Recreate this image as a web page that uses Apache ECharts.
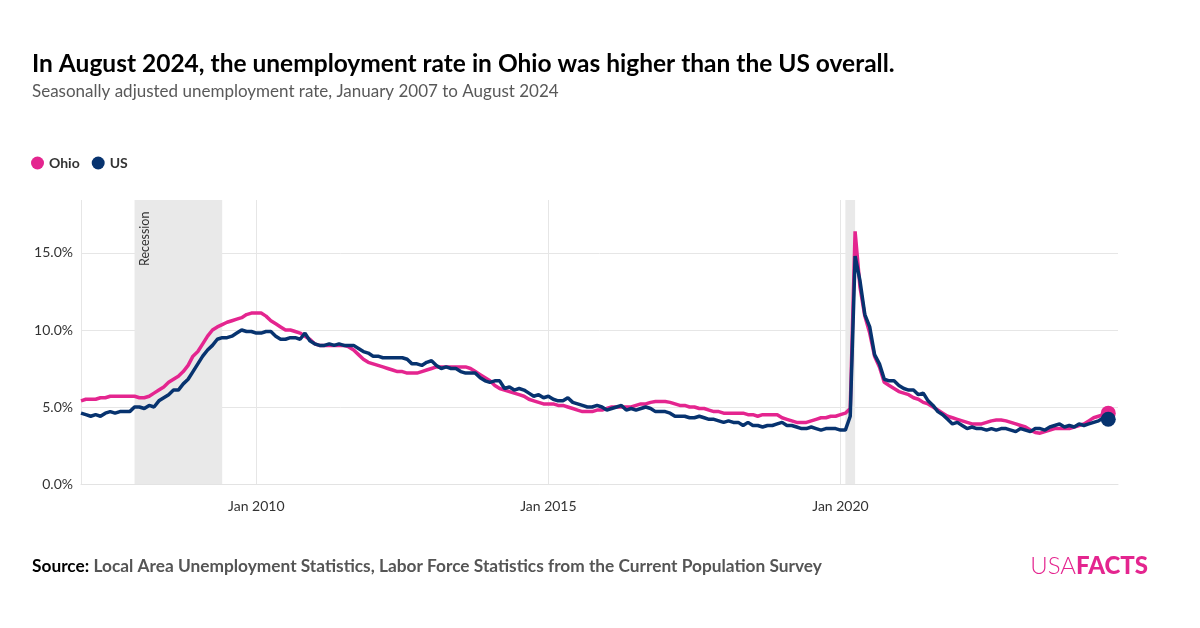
<!DOCTYPE html>
<html>
<head>
<meta charset="utf-8">
<script src="https://cdn.jsdelivr.net/npm/echarts@6/dist/echarts.min.js"></script>
<style>
html,body{margin:0;padding:0;background:#fff;}
#chart{width:1200px;height:628px;}
</style>
</head>
<body>
<div id="chart"></div>
<script>
// Monthly series, January 2007 to August 2024 (seasonally adjusted, %)
const ohio = [
  5.4,5.5,5.5,5.5,5.6,5.6,5.7,5.7,5.7,5.7,5.7,5.7,            // 2007
  5.6,5.6,5.7,5.9,6.1,6.3,6.6,6.8,7.0,7.3,7.7,8.3,            // 2008
  8.6,9.1,9.6,10.0,10.2,10.35,10.5,10.6,10.7,10.8,11.0,11.1,  // 2009
  11.1,11.1,10.9,10.6,10.4,10.2,10.0,10.0,9.9,9.8,9.6,9.4,    // 2010
  9.1,9.0,9.0,9.0,9.0,9.0,9.0,8.9,8.7,8.4,8.1,7.9,            // 2011
  7.8,7.7,7.6,7.5,7.4,7.3,7.3,7.2,7.2,7.2,7.3,7.4,            // 2012
  7.5,7.6,7.6,7.6,7.6,7.6,7.6,7.6,7.5,7.3,7.1,6.9,            // 2013
  6.7,6.4,6.2,6.1,6.0,5.9,5.8,5.7,5.5,5.4,5.3,5.2,            // 2014
  5.2,5.2,5.1,5.1,5.0,4.9,4.8,4.7,4.7,4.7,4.8,4.8,            // 2015
  4.9,5.0,5.0,5.0,5.0,5.0,5.1,5.2,5.2,5.3,5.35,5.35,          // 2016
  5.35,5.3,5.2,5.1,5.1,5.0,5.0,4.9,4.9,4.8,4.7,4.7,           // 2017
  4.6,4.6,4.6,4.6,4.6,4.5,4.5,4.4,4.5,4.5,4.5,4.5,            // 2018
  4.3,4.2,4.1,4.0,4.0,4.0,4.1,4.2,4.3,4.3,4.4,4.4,            // 2019
  4.5,4.6,4.9,16.4,12.8,10.9,9.8,8.3,7.6,6.6,6.4,6.2,         // 2020
  6.0,5.9,5.8,5.6,5.5,5.3,5.2,5.0,4.8,4.6,4.4,4.3,            // 2021
  4.2,4.1,4.0,3.9,3.9,3.9,4.0,4.1,4.15,4.15,4.1,4.0,          // 2022
  3.9,3.8,3.7,3.5,3.35,3.3,3.4,3.5,3.6,3.6,3.6,3.6,           // 2023
  3.7,3.8,3.9,4.1,4.3,4.4,4.5,4.6                             // 2024
];
const us = [
  4.6,4.5,4.4,4.5,4.4,4.6,4.7,4.6,4.7,4.7,4.7,5.0,
  5.0,4.9,5.1,5.0,5.4,5.6,5.8,6.1,6.1,6.5,6.8,7.3,
  7.8,8.3,8.7,9.0,9.4,9.5,9.5,9.6,9.8,10.0,9.9,9.9,
  9.8,9.8,9.9,9.9,9.6,9.4,9.4,9.5,9.5,9.4,9.8,9.3,
  9.1,9.0,9.0,9.1,9.0,9.1,9.0,9.0,9.0,8.8,8.6,8.5,
  8.3,8.3,8.2,8.2,8.2,8.2,8.2,8.1,7.8,7.8,7.7,7.9,
  8.0,7.7,7.5,7.6,7.5,7.5,7.3,7.2,7.2,7.2,6.9,6.7,
  6.6,6.7,6.7,6.2,6.3,6.1,6.2,6.1,5.9,5.7,5.8,5.6,
  5.7,5.5,5.4,5.4,5.6,5.3,5.2,5.1,5.0,5.0,5.1,5.0,
  4.8,4.9,5.0,5.1,4.8,4.9,4.8,4.9,5.0,4.9,4.7,4.7,
  4.7,4.6,4.4,4.4,4.4,4.3,4.3,4.4,4.3,4.2,4.2,4.1,
  4.0,4.1,4.0,4.0,3.8,4.0,3.8,3.8,3.7,3.8,3.8,3.9,
  4.0,3.8,3.8,3.7,3.6,3.6,3.7,3.6,3.5,3.6,3.6,3.6,
  3.5,3.5,4.4,14.8,13.2,11.0,10.2,8.4,7.8,6.8,6.7,6.7,
  6.4,6.2,6.1,6.1,5.8,5.9,5.4,5.1,4.7,4.5,4.2,3.9,
  4.0,3.8,3.6,3.7,3.6,3.6,3.5,3.6,3.5,3.6,3.6,3.5,
  3.4,3.6,3.5,3.4,3.6,3.6,3.5,3.7,3.8,3.9,3.7,3.8,
  3.7,3.9,3.8,3.9,4.0,4.1,4.3,4.2
];
// Axis months (axis runs a little past the last observation)
const startYear = 2007, endYear = 2024, endMonth = 10;
const months = [];
for (let y = startYear; y <= endYear; y++) {
  for (let m = 1; m <= 12; m++) {
    if (y === endYear && m > endMonth) break;
    months.push(y + '-' + String(m).padStart(2, '0'));
  }
}
const monthNames = ['Jan','Feb','Mar','Apr','May','Jun','Jul','Aug','Sep','Oct','Nov','Dec'];
const yTicks = [0, 5, 10, 15];
const yMax = 18.44;
const recessions = [['2007-12', '2009-06', 'Recession'], ['2020-02', '2020-04', '']];

const PINK = '#e4258f', NAVY = '#07336f';
const FONT = 'Lato';

function isMajor(val) {
  const [y, m] = val.split('-');
  return m === '01' && (+y) % 5 === 0;
}
function endDot(arr) {
  return function (v, p) { return p.dataIndex === arr.length - 1 ? 15 : 0; };
}

const chart = echarts.init(document.getElementById('chart'), null, {renderer: 'canvas'});
chart.setOption({
  animation: false,
  backgroundColor: '#fff',
  textStyle: {fontFamily: FONT},
  title: [
    {
      text: 'In August 2024, the unemployment rate in Ohio was higher than the US overall.',
      subtext: 'Seasonally adjusted unemployment rate, January 2007 to August 2024',
      left: 32, top: 52, itemGap: 6, padding: 0,
      textStyle: {fontFamily: FONT, fontSize: 24.5, fontWeight: 'bold', color: '#000'},
      subtextStyle: {fontFamily: FONT, fontSize: 17, color: '#595959'}
    },
    {
      text: '{b|Source:} {g|Local Area Unemployment Statistics, Labor Force Statistics from the Current Population Survey}',
      left: 32, top: 557, padding: 0,
      textStyle: {
        rich: {
          b: {fontFamily: FONT, fontSize: 17.3, fontWeight: 'bold', color: '#000'},
          g: {fontFamily: FONT, fontSize: 17.3, fontWeight: 'bold', color: '#555'}
        }
      }
    },
    {
      text: '{a|USA}{b|FACTS}',
      right: 52, top: 554, padding: 0,
      textStyle: {
        rich: {
          a: {fontFamily: FONT, fontSize: 24, fontWeight: 300, color: PINK},
          b: {fontFamily: FONT, fontSize: 24, fontWeight: 900, color: PINK}
        }
      }
    }
  ],
  legend: {
    data: ['Ohio', 'US'],
    left: 31, top: 156, padding: 0,
    icon: 'circle', itemWidth: 13, itemHeight: 13, itemGap: 12,
    textStyle: {fontFamily: FONT, fontSize: 14, fontWeight: 'bold', color: '#333'}
  },
  grid: {left: 81, right: 82, top: 200, bottom: 144, containLabel: false},
  xAxis: {
    type: 'category',
    data: months,
    boundaryGap: false,
    axisLine: {show: true, lineStyle: {color: '#e3e3e3', width: 1}},
    axisTick: {show: false},
    axisLabel: {
      interval: function (i, v) { return isMajor(v); },
      formatter: function (v) { const [y, m] = v.split('-'); return monthNames[+m - 1] + ' ' + y; },
      fontFamily: FONT, fontSize: 14, color: '#333', margin: 15
    },
    splitLine: {
      show: true,
      interval: function (i, v) { return i === 0 || isMajor(v); },
      lineStyle: {color: '#e6e6e6', width: 1}
    }
  },
  yAxis: {
    type: 'value',
    min: 0, max: yMax, interval: 5,
    axisLine: {show: false},
    axisTick: {show: false},
    axisLabel: {
      formatter: function (v) { return yTicks.indexOf(v) >= 0 ? v.toFixed(1) + '%' : ''; },
      showMaxLabel: false,
      fontFamily: FONT, fontSize: 14, color: '#333', margin: 8
    },
    splitLine: {show: true, showMaxLine: false, lineStyle: {color: '#e6e6e6', width: 1}}
  },
  series: [
    {
      name: 'Ohio', type: 'line', data: ohio,
      color: PINK,
      lineStyle: {width: 3.5, color: PINK},
      symbol: 'circle', symbolSize: endDot(ohio), showSymbol: true, showAllSymbol: true,
      itemStyle: {color: PINK},
      emphasis: {disabled: true}, silent: true, z: 2,
      markArea: {
        silent: true,
        itemStyle: {color: '#e9e9e9'},
        data: recessions.map(function (r) {
          return [
            {xAxis: r[0], label: {show: !!r[2], formatter: r[2], position: [10, 66], rotate: 90,
              align: 'left', verticalAlign: 'middle', color: '#333', fontFamily: FONT, fontSize: 12.5}},
            {xAxis: r[1]}
          ];
        })
      }
    },
    {
      name: 'US', type: 'line', data: us,
      color: NAVY,
      lineStyle: {width: 3.5, color: NAVY},
      symbol: 'circle', symbolSize: endDot(us), showSymbol: true, showAllSymbol: true,
      itemStyle: {color: NAVY},
      emphasis: {disabled: true}, silent: true, z: 3
    }
  ]
});
</script>
</body>
</html>
